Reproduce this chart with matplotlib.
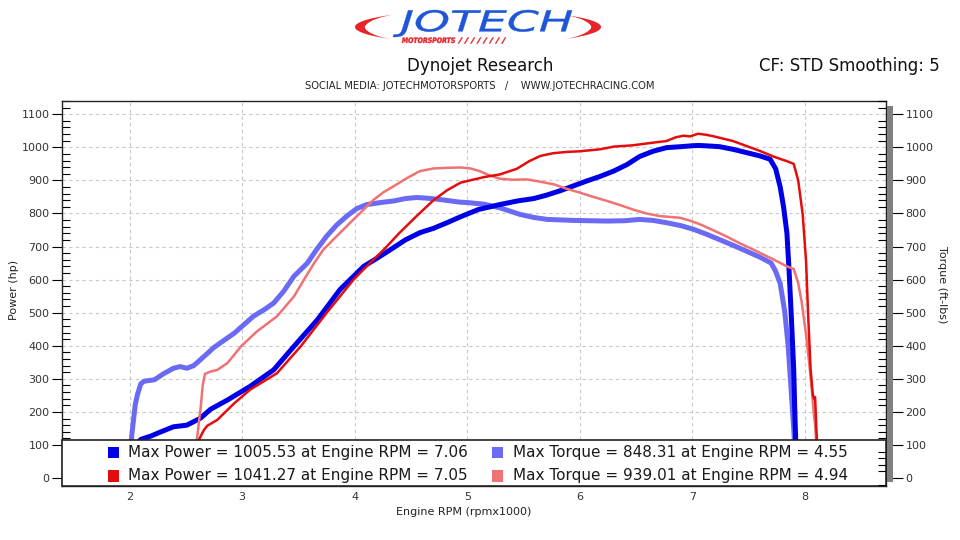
import numpy as np
import matplotlib
matplotlib.use("Agg")
import matplotlib.pyplot as plt
from matplotlib.patches import Rectangle, Polygon, PathPatch
from matplotlib.ticker import MultipleLocator
from matplotlib.textpath import TextPath
from matplotlib.font_manager import FontProperties
from matplotlib.transforms import Affine2D

# Run 1 (blue) power, hp
rpm_p1 = [2.05, 2.10, 2.19, 2.28, 2.39, 2.51, 2.63, 2.72, 2.87, 3.07, 3.28, 3.46, 3.67,
          3.87, 4.08, 4.20, 4.32, 4.45, 4.58, 4.70, 4.82, 4.94, 5.10, 5.29, 5.45, 5.59,
          5.70, 5.82, 5.94, 6.06, 6.18, 6.30, 6.42, 6.53, 6.65, 6.77, 6.90, 7.01, 7.06,
          7.12, 7.24, 7.36, 7.48, 7.60, 7.69, 7.74, 7.78, 7.81, 7.84, 7.86, 7.88, 7.90,
          7.91, 7.92]
hp_1 = [95, 117, 127, 140, 155, 160, 181, 208, 236, 277, 327, 398, 479,
        570, 640, 665, 691, 720, 742, 755, 772, 790, 812, 827, 838, 845,
        855, 868, 883, 898, 912, 928, 948, 972, 988, 999, 1002, 1005, 1005.5,
        1004.5, 1002, 994, 984, 974, 964, 935, 880, 820, 740, 620, 480, 330,
        200, 90]

# Run 2 (red) power, hp
rpm_p2 = [2.60, 2.62, 2.66, 2.69, 2.78, 2.93, 3.07, 3.31, 3.52, 3.75, 3.99, 4.13, 4.26,
          4.40, 4.55, 4.70, 4.82, 4.94, 5.00, 5.15, 5.29, 5.44, 5.55, 5.65, 5.76, 5.88,
          6.00, 6.18, 6.30, 6.47, 6.65, 6.77, 6.85, 6.92, 6.98, 7.05, 7.12, 7.18, 7.36,
          7.48, 7.60, 7.72, 7.84, 7.90, 7.94, 7.98, 8.01, 8.03, 8.05, 8.07, 8.08, 8.09,
          8.10, 8.11]
hp_2 = [90, 118, 145, 158, 176, 226, 267, 317, 398, 499, 600, 648, 691,
        742, 792, 840, 870, 893, 898, 910, 918, 935, 958, 974, 982, 986,
        988, 994, 1002, 1006, 1014, 1019, 1030, 1035, 1033, 1041, 1038, 1034, 1019,
        1004, 989, 972, 958, 950, 900, 797, 655, 480, 330, 252, 240, 245,
        160, 90]

# Run 1 (light blue) torque, ft-lbs
rpm_t1 = [2.01, 2.02, 2.05, 2.07, 2.10, 2.13, 2.22, 2.30, 2.39, 2.45, 2.51, 2.57, 2.63,
          2.75, 2.93, 3.10, 3.20, 3.28, 3.37, 3.46, 3.58, 3.66, 3.75, 3.84, 3.93, 4.02,
          4.11, 4.23, 4.35, 4.45, 4.55, 4.65, 4.76, 4.94, 5.00, 5.15, 5.29, 5.38, 5.47,
          5.59, 5.71, 5.94, 6.24, 6.40, 6.53, 6.65, 6.77, 6.90, 7.01, 7.12, 7.24, 7.36,
          7.48, 7.60, 7.70, 7.74, 7.78, 7.82, 7.85, 7.88, 7.90, 7.91]
tq_1 = [90, 130, 220, 252, 285, 293, 297, 315, 332, 337, 332, 340, 358,
        395, 438, 489, 510, 529, 565, 610, 650, 690, 731, 765, 792, 815,
        827, 833, 838, 845, 848.3, 846, 842, 834, 833, 828, 817, 807, 797,
        788, 782, 779, 777, 778, 782, 779, 772, 763, 752, 738, 721, 704,
        686, 668, 650, 625, 588, 504, 403, 252, 150, 90]

# Run 2 (light red) torque, ft-lbs
rpm_t2 = [2.59, 2.60, 2.62, 2.63, 2.65, 2.67, 2.72, 2.78, 2.87, 2.99, 3.13, 3.31, 3.46,
          3.55, 3.64, 3.72, 3.81, 3.99, 4.08, 4.17, 4.26, 4.35, 4.47, 4.58, 4.70, 4.82,
          4.94, 5.03, 5.11, 5.20, 5.29, 5.40, 5.53, 5.65, 5.77, 5.88, 6.00, 6.12, 6.24,
          6.36, 6.47, 6.59, 6.71, 6.89, 6.98, 7.07, 7.18, 7.30, 7.42, 7.54, 7.63, 7.72,
          7.84, 7.90, 7.94, 7.97, 8.01, 8.04, 8.06, 8.08, 8.09, 8.10, 8.11]
tq_2 = [90, 120, 180, 206, 280, 315, 322, 327, 348, 398, 443, 489, 549,
        600, 650, 690, 721, 782, 812, 842, 865, 883, 908, 928, 936, 938,
        939, 936, 928, 915, 905, 902, 903, 896, 888, 875, 863, 850, 838,
        825, 812, 800, 792, 787, 778, 767, 750, 731, 710, 691, 676, 661,
        640, 632, 590, 534, 433, 340, 272, 190, 161, 110, 90]

legend_labels = [
    "Max Power = 1005.53 at Engine RPM = 7.06",
    "Max Torque = 848.31 at Engine RPM = 4.55",
    "Max Power = 1041.27 at Engine RPM = 7.05",
    "Max Torque = 939.01 at Engine RPM = 4.94",
]

C_BLUE = "#0000e6"
C_LBLUE = "#6a6af5"
C_RED = "#e40d0d"
C_LRED = "#f07272"
C_LOGO_RED = "#e8232a"
C_LOGO_BLUE = "#1f56d8"

plt.rcParams['font.family'] = ['DejaVu Sans']

fig = plt.figure(figsize=(9.6, 5.4), dpi=100)
fig.patch.set_facecolor("white")

ax = fig.add_axes([62 / 960, 1 - 486 / 540, 824 / 960, 385 / 540])
ax.set_xlim(1.40, 8.72)
ax.set_ylim(-24, 1140)

ax.plot(rpm_t1, tq_1, color=C_LBLUE, lw=3.6, solid_capstyle="butt", zorder=3)
ax.plot(rpm_p1, hp_1, color=C_BLUE, lw=3.6, solid_capstyle="butt", zorder=3)
ax.plot(rpm_t2, tq_2, color=C_LRED, lw=1.8, zorder=4)
ax.plot(rpm_p2, hp_2, color=C_RED, lw=1.8, zorder=4)

# grid
ax.set_xticks(range(2, 9))
ax.yaxis.set_major_locator(MultipleLocator(100))
ax.yaxis.set_minor_locator(MultipleLocator(20))
ax.grid(True, which="major", color="#c8c8c8", linestyle=(0, (3, 3)), linewidth=0.8)
ax.set_axisbelow(True)

ax.tick_params(axis="x", length=0, pad=4, labelsize=8, labelcolor="#333333")
ax.tick_params(axis="y", which="major", direction="out", length=7, width=0.8,
               labelsize=8, labelcolor="#333333", pad=2)
ax.tick_params(axis="y", which="minor", direction="in", length=6, width=0.8)
for s in ax.spines.values():
    s.set_linewidth(1.0)
    s.set_color("#222222")

ax2 = ax.twinx()
ax2.set_ylim(ax.get_ylim())
ax2.yaxis.set_major_locator(MultipleLocator(100))
ax2.yaxis.set_minor_locator(MultipleLocator(20))
ax2.tick_params(axis="y", which="major", direction="out", length=12, width=0.8,
                labelsize=8, labelcolor="#333333", pad=2)
ax2.tick_params(axis="y", which="minor", direction="in", length=6, width=0.8)
for s in ax2.spines.values():
    s.set_visible(False)

# legend box drawn over the bottom of the plot
box_h = 46 / 385
ax.add_patch(Rectangle((0, 0), 1, box_h, transform=ax.transAxes, facecolor="white",
                       edgecolor="#222222", lw=1.2, zorder=10, clip_on=False))
colors = [C_BLUE, C_LBLUE, C_RED, C_LRED]
rows = [0.087, 0.087, 0.027, 0.027]
sq_x = [0.0558, 0.522]
tx_x = [0.080, 0.547]
for i, (lab, col) in enumerate(zip(legend_labels, colors)):
    c = i % 2
    y = rows[i]
    ax.add_patch(Rectangle((sq_x[c], y - 0.0155), 11 / 824, 0.031, transform=ax.transAxes,
                           facecolor=col, edgecolor="none", zorder=11, clip_on=False))
    ax.text(tx_x[c], y, lab, transform=ax.transAxes, fontsize=11, color="#1a1a1a",
            va="center", ha="left", zorder=12)

# gray bar next to right axis
fig.patches.append(Rectangle((887 / 960, 1 - 482 / 540), 6 / 960, 376 / 540,
                             transform=fig.transFigure, facecolor="#808080",
                             edgecolor="none", zorder=0))

# axis labels
fig.text(14 / 960, 1 - 290 / 540, "Power (hp)", rotation=90, fontsize=8,
         color="#222222", ha="center", va="center")
fig.text(942 / 960, 1 - 285 / 540, "Torque (ft-lbs)", rotation=270, fontsize=8,
         color="#222222", ha="center", va="center")
fig.text(464 / 960, 1 - 512 / 540, "Engine RPM (rpmx1000)", fontsize=8,
         color="#222222", ha="center", va="center")

# header
fig.text(0.5, 1 - 66 / 540, "Dynojet Research", fontsize=12, color="#111111",
         ha="center", va="center")
fig.text(940 / 960, 1 - 66 / 540, "CF: STD Smoothing: 5", fontsize=12, color="#111111",
         ha="right", va="center")
fig.text(480 / 960, 1 - 86 / 540,
         "SOCIAL MEDIA: JOTECHMOTORSPORTS   /    WWW.JOTECHRACING.COM",
         fontsize=7.2, color="#222222", ha="center", va="center")


# logo, drawn in pixel coordinates (y down)
lg = fig.add_axes([0, 0, 1, 1], zorder=-1)
lg.set_xlim(0, 960)
lg.set_ylim(540, 0)
lg.axis("off")


def crescent(side):
    cx, cy, a, b = 478, 27, 123, 17
    if side == "left":
        t = np.radians(np.linspace(134, 228, 80))
        sgn = 1
    else:
        t = np.radians(np.linspace(-46, 46, 80))
        sgn = -1
    s = np.linspace(0, 1, len(t))
    w = 9 * np.sin(np.pi * s) ** 1.5
    ox = cx + a * np.cos(t)
    oy = cy + b * np.sin(t)
    ix = ox + sgn * w
    iy = oy - np.sign(np.sin(t)) * w * 0.2
    pts = np.vstack([np.column_stack([ox, oy]), np.column_stack([ix, iy])[::-1]])
    return Polygon(pts, closed=True, facecolor=C_LOGO_RED, edgecolor="none")


def text_path(txt, x0, x1, ytop, ybot, color, style="italic", weight="normal"):
    tp = TextPath((0, 0), txt, size=1,
                  prop=FontProperties(family="DejaVu Sans", style=style, weight=weight))
    ext = tp.get_extents()
    sx = (x1 - x0) / ext.width
    sy = (ybot - ytop) / ext.height
    tr = (Affine2D().translate(-ext.x0, -ext.y0).scale(sx, -sy).translate(x0, ybot)
          + lg.transData)
    return PathPatch(tp, transform=tr, facecolor=color, edgecolor=color, lw=0.3)


lg.add_patch(crescent("left"))
lg.add_patch(crescent("right"))
lg.add_patch(text_path("JOTECH", 393, 572, 10, 37, C_LOGO_BLUE))
lg.add_patch(text_path("MOTORSPORTS", 402, 455, 37.5, 43, C_LOGO_RED, weight="bold"))
lg.add_patch(text_path("/ / / / / / / /", 458, 506, 37.5, 43.5, C_LOGO_RED, weight="bold"))

fig.savefig("out.png", dpi=100, facecolor="white")
